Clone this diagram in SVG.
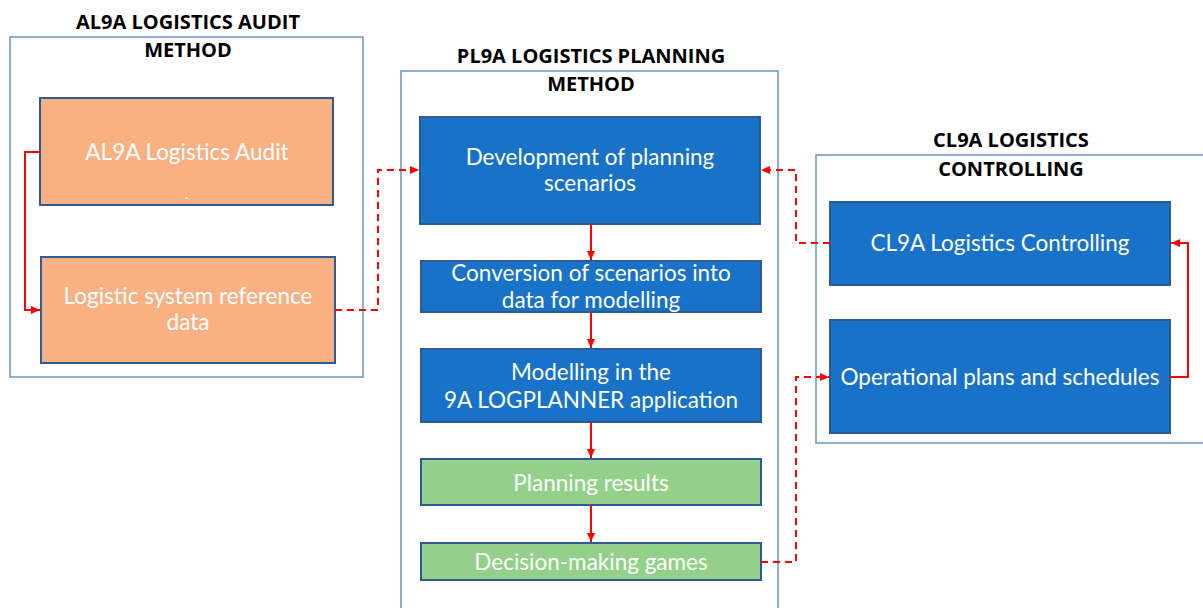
<svg xmlns="http://www.w3.org/2000/svg" width="1203" height="608" viewBox="0 0 1203 608">
<style>
.cont{fill:#fff;stroke:#6C93C6;stroke-width:1.5}
.title{font-family:"Open Sans","Liberation Sans",sans-serif;font-weight:bold;font-size:20px;fill:#000;text-anchor:middle}
.orange{fill:#F9B083;stroke:#2F5A96;stroke-width:2}
.blue{fill:#1872C7;stroke:#2A5A98;stroke-width:2}
.green{fill:#93D18A;stroke:#2A5A98;stroke-width:2}
.lbl{font-family:Lato,"Liberation Sans",sans-serif;font-size:22.5px;fill:#fff;text-anchor:middle}
.solid{fill:none;stroke:#FF0000;stroke-width:2}
.dash{fill:none;stroke:#FF0000;stroke-width:2;stroke-dasharray:7,5}
</style>
<defs>
<marker id="ah" markerWidth="10" markerHeight="10" refX="9" refY="5" orient="auto" markerUnits="userSpaceOnUse">
<path d="M0,1 L9,5 L0,9 z" fill="#FF0000"/>
</marker>
</defs>
<rect width="1203" height="608" fill="#fff"/>
<g id="container-al9a">
<rect class="cont" x="10" y="37" width="353" height="340"/>
<text class="title" x="188" y="29">AL9A LOGISTICS AUDIT</text>
<text class="title" x="188" y="57">METHOD</text>
</g>
<g id="container-pl9a">
<rect class="cont" x="401" y="71" width="377" height="545"/>
<text class="title" x="591" y="63">PL9A LOGISTICS PLANNING</text>
<text class="title" x="591" y="91">METHOD</text>
</g>
<g id="container-cl9a">
<rect class="cont" x="816" y="155" width="395" height="288"/>
<text class="title" x="1011" y="147">CL9A LOGISTICS</text>
<text class="title" x="1011" y="176">CONTROLLING</text>
</g>
<g id="node-audit">
<rect class="orange" x="40" y="98" width="293" height="107"/>
<text class="lbl" x="187" y="160">AL9A Logistics Audit</text>
<text class="lbl" x="187" y="208" style="font-size:16px">`</text>
</g>
<g id="node-reference">
<rect class="orange" x="41" y="257" width="294" height="106"/>
<text class="lbl" x="188" y="304">Logistic system reference</text>
<text class="lbl" x="188" y="330">data</text>
</g>
<g id="node-development">
<rect class="blue" x="420" y="117" width="340" height="107"/>
<text class="lbl" x="590" y="165">Development of planning</text>
<text class="lbl" x="590" y="191">scenarios</text>
</g>
<g id="node-conversion">
<rect class="blue" x="421" y="261" width="340" height="51"/>
<text class="lbl" x="591" y="281">Conversion of scenarios into</text>
<text class="lbl" x="591" y="308">data for modelling</text>
</g>
<g id="node-modelling">
<rect class="blue" x="421" y="349" width="340" height="73"/>
<text class="lbl" x="591" y="380">Modelling in the</text>
<text class="lbl" x="591" y="408">9A LOGPLANNER application</text>
</g>
<g id="node-results">
<rect class="green" x="421" y="459" width="340" height="46"/>
<text class="lbl" x="591" y="491">Planning results</text>
</g>
<g id="node-games">
<rect class="green" x="421" y="543" width="340" height="37"/>
<text class="lbl" x="591" y="570">Decision-making games</text>
</g>
<g id="node-controlling">
<rect class="blue" x="830" y="202" width="340" height="83"/>
<text class="lbl" x="1000" y="251">CL9A Logistics Controlling</text>
</g>
<g id="node-operational">
<rect class="blue" x="830" y="320" width="340" height="113"/>
<text class="lbl" x="1000" y="385">Operational plans and schedules</text>
</g>
<g id="connectors">
<path class="solid" d="M40,152 H25 V310 H40" marker-end="url(#ah)"/>
<path class="dash" d="M335,310 H378 V170 H419" marker-end="url(#ah)"/>
<path class="solid" d="M591,224 V260" marker-end="url(#ah)"/>
<path class="solid" d="M591,312 V348" marker-end="url(#ah)"/>
<path class="solid" d="M591,422 V458" marker-end="url(#ah)"/>
<path class="solid" d="M591,505 V542" marker-end="url(#ah)"/>
<path class="dash" d="M761,562 H796 V377 H829" marker-end="url(#ah)"/>
<path class="dash" d="M830,243 H796 V170 H761" marker-end="url(#ah)"/>
<path class="solid" d="M1170,377 H1188 V243 H1171" marker-end="url(#ah)"/>
</g>
</svg>
